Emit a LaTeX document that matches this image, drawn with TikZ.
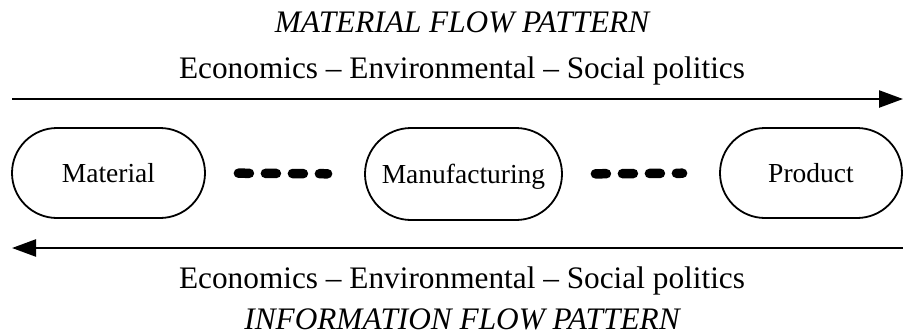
\documentclass[tikz,border=0pt]{standalone}
\usepackage{fontspec}
\setmainfont{Liberation Serif}
\usepackage{tikz}
\usetikzlibrary{shapes,arrows.meta,calc}

\begin{document}
\begin{tikzpicture}[x=1pt,y=-1pt]
      \tikzstyle{every node}=[inner sep=0pt]
      \tikzstyle{stage}=[rounded rectangle, draw, line width=1.8pt, text height=18pt, text depth=0pt, font=\fontsize{27.5}{30}\selectfont]
      \tikzstyle{flow}=[line width=2.4pt, -{Triangle[length=24pt,width=17pt]}]
      \tikzstyle{dots}=[line width=9.5pt, line cap=round, dash pattern=on 11pt off 16pt, shorten <=32.5pt, shorten >=36.5pt]
      \tikzstyle{label}=[anchor=base, font=\fontsize{31.3}{34}\selectfont]

      \useasboundingbox (0,0) rectangle (903,335);

      \node[label] (mtitle) at (462,32) {\itshape MATERIAL FLOW PATTERN};
      \node[label] (mtext) at (462,78) {Economics -- Environmental -- Social politics};

      \coordinate (mstart) at (12,99);
      \coordinate (mend) at (903,99);
      \draw[flow] (mstart) -- (mend);

      \node[stage, minimum width=193pt, minimum height=90pt] (mat) at (108.5,173) {Material};
      \node[stage, minimum width=197pt, minimum height=92pt] (man) at (463.5,174) {Manufacturing};
      \node[stage, minimum width=182pt, minimum height=90pt] (pro) at (811,173) {Product};

      \draw[dots] (mat.east) -- (man.west);
      \draw[dots] (man.east) -- (pro.west);

      \coordinate (istart) at (903,248);
      \coordinate (iend) at (12,248);
      \draw[flow] (istart) -- (iend);

      \node[label] (itext) at (462,288) {Economics -- Environmental -- Social politics};
      \node[label] (ititle) at (462,329) {\itshape INFORMATION FLOW PATTERN};
    \end{tikzpicture}
\end{document}
